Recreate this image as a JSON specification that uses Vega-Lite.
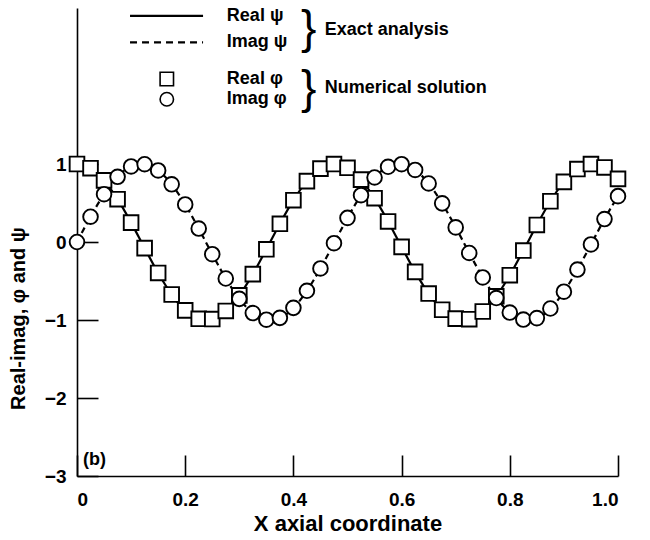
{
  "$schema": "https://vega.github.io/schema/vega-lite/v6.json",
  "width": 541,
  "height": 468,
  "autosize": {"type": "none"},
  "padding": {"left": 77, "top": 8, "right": 32, "bottom": 64},
  "background": "white",
  "config": {
    "view": {"stroke": null},
    "font": "Liberation Sans",
    "axis": {
      "domainColor": "black", "domainWidth": 1.6, "tickColor": "black", "tickWidth": 1.6,
      "labelColor": "black", "titleColor": "black", "labelFont": "Liberation Sans", "titleFont": "Liberation Sans",
      "labelFontWeight": "bold", "titleFontWeight": "bold", "labelFontSize": 19, "titleFontSize": 21, "grid": false
    }
  },
  "datasets": {
    "sol": [
      {"x": 0, "re": 1, "im": 0},
      {"x": 0.025, "re": 0.9461, "im": 0.3239},
      {"x": 0.05, "re": 0.7902, "im": 0.6129},
      {"x": 0.075, "re": 0.549, "im": 0.8358},
      {"x": 0.1, "re": 0.2487, "im": 0.9686},
      {"x": 0.125, "re": -0.0785, "im": 0.9969},
      {"x": 0.15, "re": -0.3971, "im": 0.9178},
      {"x": 0.175, "re": -0.673, "im": 0.7396},
      {"x": 0.2, "re": -0.8763, "im": 0.4818},
      {"x": 0.225, "re": -0.9851, "im": 0.1719},
      {"x": 0.25, "re": -0.9877, "im": -0.1564},
      {"x": 0.275, "re": -0.8838, "im": -0.4679},
      {"x": 0.3, "re": -0.6845, "im": -0.729},
      {"x": 0.325, "re": -0.4115, "im": -0.9114},
      {"x": 0.35, "re": -0.0941, "im": -0.9956},
      {"x": 0.375, "re": 0.2334, "im": -0.9724},
      {"x": 0.4, "re": 0.5358, "im": -0.8443},
      {"x": 0.425, "re": 0.7804, "im": -0.6252},
      {"x": 0.45, "re": 0.9409, "im": -0.3387},
      {"x": 0.475, "re": 0.9999, "im": -0.0157},
      {"x": 0.5, "re": 0.9511, "im": 0.309},
      {"x": 0.525, "re": 0.7997, "im": 0.6004},
      {"x": 0.55, "re": 0.5621, "im": 0.8271},
      {"x": 0.575, "re": 0.2639, "im": 0.9646},
      {"x": 0.6, "re": -0.0628, "im": 0.998},
      {"x": 0.625, "re": -0.3827, "im": 0.9239},
      {"x": 0.65, "re": -0.6613, "im": 0.7501},
      {"x": 0.675, "re": -0.8686, "im": 0.4955},
      {"x": 0.7, "re": -0.9823, "im": 0.1874},
      {"x": 0.725, "re": -0.99, "im": -0.1409},
      {"x": 0.75, "re": -0.891, "im": -0.454},
      {"x": 0.775, "re": -0.6959, "im": -0.7181},
      {"x": 0.8, "re": -0.4258, "im": -0.9048},
      {"x": 0.825, "re": -0.1097, "im": -0.994},
      {"x": 0.85, "re": 0.2181, "im": -0.9759},
      {"x": 0.875, "re": 0.5225, "im": -0.8526},
      {"x": 0.9, "re": 0.7705, "im": -0.6374},
      {"x": 0.925, "re": 0.9354, "im": -0.3535},
      {"x": 0.95, "re": 0.9995, "im": -0.0314},
      {"x": 0.975, "re": 0.9558, "im": 0.294},
      {"x": 1.0, "re": 0.809, "im": 0.5878}
    ],
    "legendLines": [
      {"kind": "solid", "x": 0.098, "x2": 0.233, "y": 2.9},
      {"kind": "dashed", "x": 0.098, "x2": 0.233, "y": 2.56}
    ],
    "legendSymbols": [
      {"kind": "square", "x": 0.166, "y": 2.09},
      {"kind": "circle", "x": 0.166, "y": 1.83}
    ],
    "legendText": [
      {"label": "Real ψ", "x": 0.277, "y": 2.9},
      {"label": "Imag ψ", "x": 0.277, "y": 2.56},
      {"label": "Real φ", "x": 0.277, "y": 2.09},
      {"label": "Imag φ", "x": 0.277, "y": 1.83},
      {"label": "Exact analysis", "x": 0.458, "y": 2.72},
      {"label": "Numerical solution", "x": 0.458, "y": 1.97},
      {"label": "(b)", "x": 0.011, "y": -2.79}
    ],
    "braces": [
      {"label": "}", "x": 0.414, "y": 2.73},
      {"label": "}", "x": 0.414, "y": 1.96}
    ]
  },
  "layer": [
    {
      "data": {"name": "sol"},
      "mark": {"type": "line", "color": "black", "strokeWidth": 2.2, "interpolate": "monotone"},
      "encoding": {
        "x": {"field": "x", "type": "quantitative", "scale": {"domain": [0, 1], "nice": false},
          "axis": {"values": [0, 0.2, 0.4, 0.6, 0.8, 1.0], "tickSize": -21, "labelPadding": 35,
            "labelExpr": "datum.value == 0 ? '0' : format(datum.value, '.1f')",
            "title": "X axial coordinate", "titlePadding": 4, "titleFontSize": 22}},
        "y": {"field": "re", "type": "quantitative", "scale": {"domain": [-3, 3], "nice": false},
          "axis": {"values": [-3, -2, -1, 0, 1], "format": "d", "tickSize": -21, "labelPadding": 32,
            "title": "Real-imag, φ and ψ", "titleX": -59, "titleY": 310, "titleAngle": 270, "titleFontSize": 20,
            "titleAlign": "center", "titleBaseline": "middle"}}
      }
    },
    {
      "data": {"name": "sol"},
      "mark": {"type": "line", "color": "black", "strokeWidth": 2.2, "strokeDash": [6, 4], "interpolate": "monotone"},
      "encoding": {
        "x": {"field": "x", "type": "quantitative"},
        "y": {"field": "im", "type": "quantitative"}
      }
    },
    {
      "data": {"name": "sol"},
      "mark": {"type": "point", "shape": "square", "size": 215, "filled": true, "fill": "white", "stroke": "black", "strokeWidth": 1.9, "opacity": 1},
      "encoding": {
        "x": {"field": "x", "type": "quantitative"},
        "y": {"field": "re", "type": "quantitative"}
      }
    },
    {
      "data": {"name": "sol"},
      "mark": {"type": "point", "shape": "circle", "size": 215, "filled": true, "fill": "white", "stroke": "black", "strokeWidth": 1.9, "opacity": 1},
      "encoding": {
        "x": {"field": "x", "type": "quantitative"},
        "y": {"field": "im", "type": "quantitative"}
      }
    },
    {
      "data": {"name": "legendLines"},
      "mark": {"type": "rule", "color": "black", "strokeWidth": 2.2},
      "transform": [{"filter": "datum.kind == 'solid'"}],
      "encoding": {
        "x": {"field": "x", "type": "quantitative"},
        "x2": {"field": "x2"},
        "y": {"field": "y", "type": "quantitative"}
      }
    },
    {
      "data": {"name": "legendLines"},
      "mark": {"type": "rule", "color": "black", "strokeWidth": 2.2, "strokeDash": [7, 5]},
      "transform": [{"filter": "datum.kind == 'dashed'"}],
      "encoding": {
        "x": {"field": "x", "type": "quantitative"},
        "x2": {"field": "x2"},
        "y": {"field": "y", "type": "quantitative"}
      }
    },
    {
      "data": {"name": "legendSymbols"},
      "transform": [{"filter": "datum.kind == 'square'"}],
      "mark": {"type": "point", "shape": "square", "size": 180, "filled": true, "fill": "white", "stroke": "black", "strokeWidth": 1.6, "opacity": 1},
      "encoding": {
        "x": {"field": "x", "type": "quantitative"},
        "y": {"field": "y", "type": "quantitative"}
      }
    },
    {
      "data": {"name": "legendSymbols"},
      "transform": [{"filter": "datum.kind == 'circle'"}],
      "mark": {"type": "point", "shape": "circle", "size": 180, "filled": true, "fill": "white", "stroke": "black", "strokeWidth": 1.6, "opacity": 1},
      "encoding": {
        "x": {"field": "x", "type": "quantitative"},
        "y": {"field": "y", "type": "quantitative"}
      }
    },
    {
      "data": {"name": "legendText"},
      "mark": {"type": "text", "align": "left", "baseline": "middle", "font": "Liberation Sans", "fontWeight": "bold", "fontSize": 18, "color": "black"},
      "encoding": {
        "x": {"field": "x", "type": "quantitative"},
        "y": {"field": "y", "type": "quantitative"},
        "text": {"field": "label"}
      }
    },
    {
      "data": {"name": "braces"},
      "mark": {"type": "text", "align": "left", "baseline": "middle", "font": "Liberation Sans", "fontWeight": "normal", "fontSize": 46, "color": "black"},
      "encoding": {
        "x": {"field": "x", "type": "quantitative"},
        "y": {"field": "y", "type": "quantitative"},
        "text": {"field": "label"}
      }
    }
  ]
}
